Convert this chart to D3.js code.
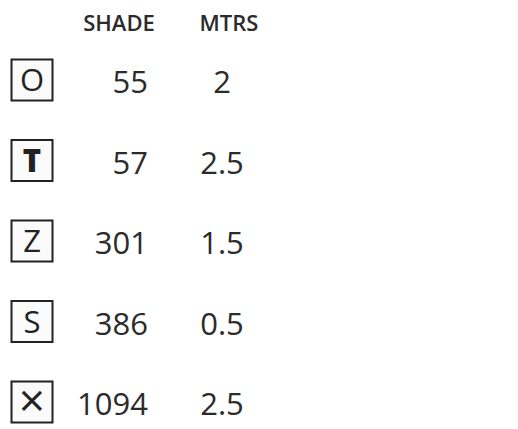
<!DOCTYPE html>
<html>
<head>
  <style>
    body { margin: 0; background: #fff; }
    text { font-family: "Open Sans", sans-serif; fill: #2b2b2b; }
  </style>
</head>
<body>
  <script src="https://d3js.org/d3.v7.min.js"></script>
  <script>
    const symbols = ['O', 'T', 'Z', 'S', '\u00d7'];
    const shades = [55, 57, 301, 386, 1094];
    const mtrs = ['2', '2.5', '1.5', '0.5', '2.5'];
    const headers = ['SHADE', 'MTRS'];

    const width = 518;
    const height = 429;

    const svg = d3.select('body')
      .append('svg')
      .attr('width', width)
      .attr('height', height);

    // one row per thread
    const y = d3.scalePoint()
      .domain(d3.range(shades.length))
      .range([80, 402]);

    // column positions
    const x = d3.scaleOrdinal()
      .domain(['box', 'SHADE', 'MTRS'])
      .range([32, 148, 222]);

    const headX = d3.scaleOrdinal()
      .domain(headers)
      .range([119, 229]);

    svg.append('g')
      .selectAll('text')
      .data(headers)
      .enter()
      .append('text')
      .attr('x', d => headX(d))
      .attr('y', 31)
      .attr('text-anchor', 'middle')
      .style('font-size', '22px')
      .style('font-weight', 600)
      .text(d => d);

    const rows = svg.append('g')
      .selectAll('g')
      .data(shades)
      .enter()
      .append('g')
      .attr('transform', (d, i) => `translate(0, ${y(i)})`);

    const box = 41;
    rows.append('rect')
      .attr('x', x('box') - box / 2)
      .attr('y', -box / 2)
      .attr('width', box)
      .attr('height', box)
      .attr('fill', '#fbfbfb')
      .attr('stroke', '#222')
      .attr('stroke-width', 2);

    rows.append('text')
      .attr('x', x('box'))
      .attr('y', (d, i) => i === 4 ? 15 : 11)
      .attr('text-anchor', 'middle')
      .style('font-size', (d, i) => i === 4 ? '46px' : '31px')
      .style('font-weight', (d, i) => i === 1 ? 800 : 400)
      .style('fill', '#222')
      .text((d, i) => symbols[i]);

    rows.append('text')
      .attr('x', x('SHADE'))
      .attr('y', 13)
      .attr('text-anchor', 'end')
      .style('font-size', '31px')
      .text(d => d);

    rows.append('text')
      .attr('x', x('MTRS'))
      .attr('y', 13)
      .attr('text-anchor', 'middle')
      .style('font-size', '31px')
      .text((d, i) => mtrs[i]);
  </script>
</body>
</html>
